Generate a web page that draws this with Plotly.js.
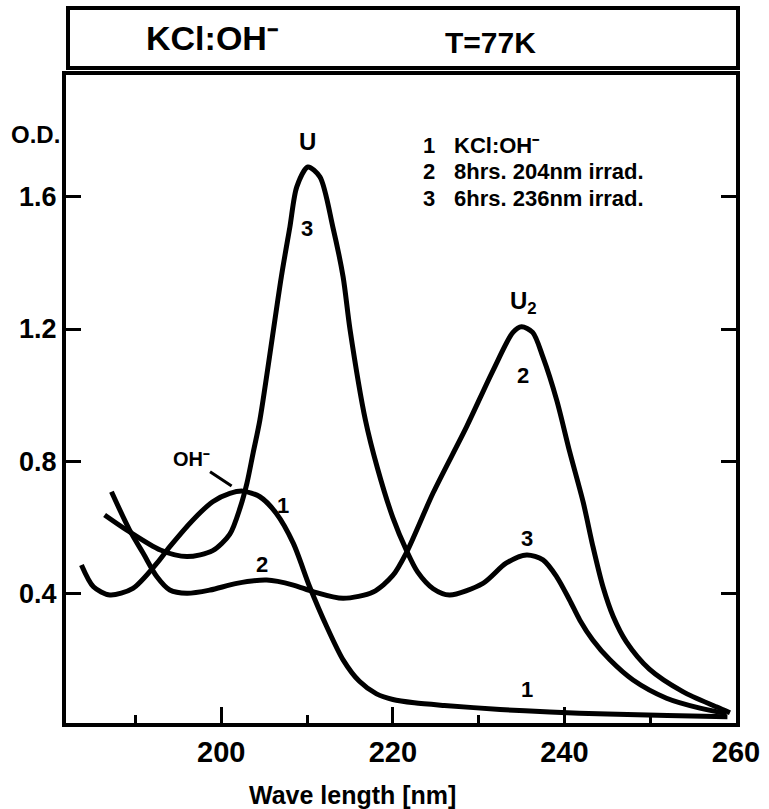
<!DOCTYPE html>
<html>
<head>
<meta charset="utf-8">
<script src="https://cdn.plot.ly/plotly-3.0.1.min.js"></script>
<style>html,body{margin:0;padding:0;background:#fff;}#chart{width:769px;height:809px;}</style>
</head>
<body>
<div id="chart"></div>
<script>
// Curve 1: KCl:OH-
const wl1 = [183.7,185.1,187.0,189.7,192.5,194.0,196.7,199.0,201.0,202.5,204.5,206.4,208.4,210.3,212.3,214.2,216.1,218.1,220.0,222.5,226.0,232.5,238.3,245,252,259];
const od1 = [0.487,0.421,0.396,0.416,0.492,0.542,0.623,0.678,0.703,0.710,0.693,0.643,0.552,0.421,0.300,0.200,0.135,0.097,0.080,0.070,0.062,0.050,0.042,0.036,0.032,0.028];
// Curve 2: 8hrs. 204nm irrad.
const wl2 = [187.2,189.3,190.9,192.5,194.0,196.0,198.7,201.8,205.3,208.4,210.7,214.2,217.7,220.0,221.6,224.7,228.6,231.7,234.0,235.0,236.3,237.5,239.1,240.6,242.2,243.3,244.5,245.7,247.2,249.9,253.8,257.7,259.3];
const od2 = [0.708,0.593,0.522,0.451,0.411,0.401,0.411,0.431,0.441,0.426,0.406,0.386,0.405,0.455,0.525,0.705,0.905,1.076,1.190,1.207,1.190,1.115,0.985,0.830,0.675,0.545,0.420,0.330,0.255,0.172,0.104,0.058,0.040];
// Curve 3: 6hrs. 236nm irrad.
const wl3 = [186.4,189.0,192.9,196.0,199.0,201.0,202.2,203.0,203.7,204.5,207.0,208.0,208.8,210.1,211.5,213.0,214.2,215.0,216.8,218.2,220.0,221.6,222.9,224.7,226.6,230.5,233.2,235.6,237.5,239.1,240.6,241.8,243.3,245.3,248.0,251.9,255.8,258.9];
const od3 = [0.638,0.592,0.532,0.512,0.530,0.580,0.660,0.735,0.824,0.925,1.358,1.509,1.630,1.690,1.660,1.509,1.358,1.200,0.925,0.780,0.630,0.530,0.465,0.415,0.396,0.431,0.492,0.517,0.502,0.451,0.381,0.320,0.260,0.200,0.139,0.084,0.054,0.038];

const xTickVals = [200,220,240,260];
const xTickText = ['200','220','240','260'];
const xMinorVals = [190,210,230,250];
const yTickVals = [0.4,0.8,1.2,1.6];
const yTickText = ['0.4','0.8','1.2','1.6'];

const legendNums = ['1','2','3'];
const legendTexts = ['KCl:OH⁻','8hrs. 204nm irrad.','6hrs. 236nm irrad.'];

const F = 'Liberation Sans, Arial, sans-serif';
const lineStyle = {color:'#000', width:5, shape:'spline', smoothing:0.8};

const traces = [
  {x:wl1, y:od1, mode:'lines', line:lineStyle, name:'1', hoverinfo:'skip'},
  {x:wl2, y:od2, mode:'lines', line:lineStyle, name:'2', hoverinfo:'skip'},
  {x:wl3, y:od3, mode:'lines', line:lineStyle, name:'3', hoverinfo:'skip'}
];

function lab(x, y, t, size) {
  return {x:x, y:y, xref:'x', yref:'y', text:t, showarrow:false, xanchor:'center', yanchor:'middle',
          font:{family:F, size:size||22, color:'#000', weight:'bold'}};
}

const annotations = [
  lab(210.0, 1.766, 'U', 24),
  lab(210.0, 1.505, '3', 22),
  lab(235.2, 1.279, 'U<sub>2</sub>', 24),
  lab(235.2, 1.061, '2', 22),
  lab(235.6, 0.568, '3', 22),
  lab(207.2, 0.668, '1', 22),
  lab(204.7, 0.487, '2', 22),
  lab(235.6, 0.109, '1', 22),
  {x:201.4, y:0.722, xref:'x', yref:'y', text:'OH⁻', showarrow:true, arrowhead:0,
   arrowwidth:3, arrowcolor:'#000', ax:-42, ay:-28, standoff:2,
   font:{family:F, size:20, color:'#000', weight:'bold'}},
  // axis labels
  {x:0, y:1.787, xref:'paper', yref:'y', xanchor:'right', yanchor:'middle', xshift:-4, text:'O.D.', showarrow:false,
   font:{family:F, size:24, color:'#000', weight:'bold'}},
  {x:(352-66)/670, y:(723-795)/648, xref:'paper', yref:'paper', xanchor:'center', yanchor:'middle',
   text:'Wave length [nm]', showarrow:false,
   font:{family:F, size:25, color:'#000', weight:'bold'}},
  // header
  {x:(212-66)/670, y:(723-38)/648, xref:'paper', yref:'paper', xanchor:'center', yanchor:'middle',
   text:'KCl:OH⁻', showarrow:false, font:{family:F, size:34, color:'#000', weight:'bold'}},
  {x:(490-66)/670, y:(723-42)/648, xref:'paper', yref:'paper', xanchor:'center', yanchor:'middle',
   text:'T=77K', showarrow:false, font:{family:F, size:30, color:'#000', weight:'bold'}}
];

const legendY = [1.756, 1.675, 1.596];
for (let i = 0; i < 3; i++) {
  annotations.push({x:(429-66)/670, y:legendY[i], xref:'paper', yref:'y', xanchor:'center', yanchor:'middle',
    text:legendNums[i], showarrow:false, font:{family:F, size:22, color:'#000', weight:'bold'}});
  annotations.push({x:(452-66)/670, y:legendY[i], xref:'paper', yref:'y', xanchor:'left', yanchor:'middle',
    text:legendTexts[i], showarrow:false, font:{family:F, size:22, color:'#000', weight:'bold'}});
}

const layout = {
  width:769, height:809,
  margin:{l:66, r:33, t:75, b:86},
  paper_bgcolor:'#fff', plot_bgcolor:'#fff',
  showlegend:false,
  xaxis:{range:[181.9,260], showgrid:false, zeroline:false, showline:true, linewidth:4, linecolor:'#000',
    mirror:true, ticks:'inside', ticklen:16, tickwidth:3, tickcolor:'#000',
    tickvals:xTickVals, ticktext:xTickText,
    tickfont:{family:F, size:29, color:'#000', weight:'bold'},
    minor:{tickvals:xMinorVals, ticks:'inside', ticklen:8, tickwidth:3, tickcolor:'#000', showgrid:false}},
  yaxis:{range:[0.009,1.968], showgrid:false, zeroline:false, showline:true, linewidth:4, linecolor:'#000',
    mirror:'ticks', ticks:'inside', ticklen:15, tickwidth:3, tickcolor:'#000',
    tickvals:yTickVals, ticktext:yTickText,
    tickfont:{family:F, size:27, color:'#000', weight:'bold'}},
  shapes:[{type:'rect', xref:'paper', yref:'paper', x0:(68-66)/670, x1:(738-66)/670,
    y0:(723-68)/648, y1:(723-8)/648, line:{color:'#000', width:4}, fillcolor:'rgba(0,0,0,0)'}],
  annotations:annotations
};

Plotly.newPlot('chart', traces, layout, {displayModeBar:false, staticPlot:true});
</script>
</body>
</html>
